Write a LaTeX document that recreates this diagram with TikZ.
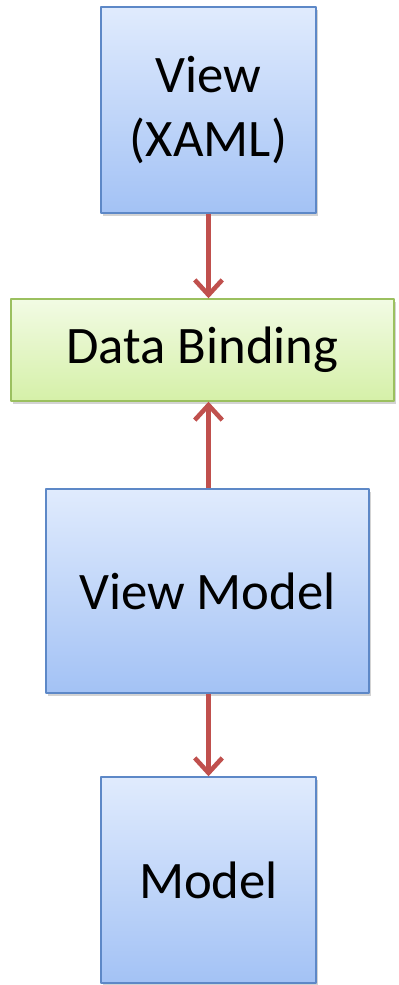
\documentclass[tikz,border=0pt]{standalone}
\usepackage{fontspec}
\setmainfont{Carlito}
\usetikzlibrary{arrows.meta,shadows}
\definecolor{boxblue}{RGB}{93,136,199}
\definecolor{topblue}{RGB}{224,235,253}
\definecolor{botblue}{RGB}{163,194,245}
\definecolor{boxgreen}{RGB}{155,192,95}
\definecolor{topgreen}{RGB}{242,251,228}
\definecolor{botgreen}{RGB}{213,240,168}
\definecolor{arrowred}{RGB}{192,80,77}
\begin{document}
\begin{tikzpicture}[line join=round,font=\fontsize{30}{36}\selectfont]
	\tikzset{
	 layer/.style={draw=boxblue,line width=.8pt,top color=topblue,bottom color=botblue,align=center,inner sep=0pt,
	  drop shadow={shadow xshift=.04cm,shadow yshift=-.06cm,opacity=.35}},
	 bind/.style={layer,draw=boxgreen,top color=topgreen,bottom color=botgreen},
	 flow/.style={-{Straight Barb[length=.3cm,width=.55cm,line width=2.6pt]},draw=arrowred,line width=2.8pt},
	}
	\useasboundingbox (0,0) rectangle (7.96,19.7);
	\node[layer,minimum width=4.3cm,minimum height=4.12cm] (view) at (4.17,17.5) {View\\(XAML)};
	\node[bind,minimum width=7.66cm,minimum height=2.04cm] (binding) at (4.05,12.7) {Data Binding};
	\node[layer,minimum width=6.46cm,minimum height=4.08cm] (vmodel) at (4.15,7.88) {View Model};
	\node[layer,minimum width=4.3cm,minimum height=4.12cm] (model) at (4.17,2.1) {Model};
	\draw[flow] (view.south) -- (view.south |- binding.north);
	\draw[flow] (view.south |- vmodel.north) -- (view.south |- binding.south);
	\draw[flow] (model.north |- vmodel.south) -- (model.north);
\end{tikzpicture}
\end{document}
